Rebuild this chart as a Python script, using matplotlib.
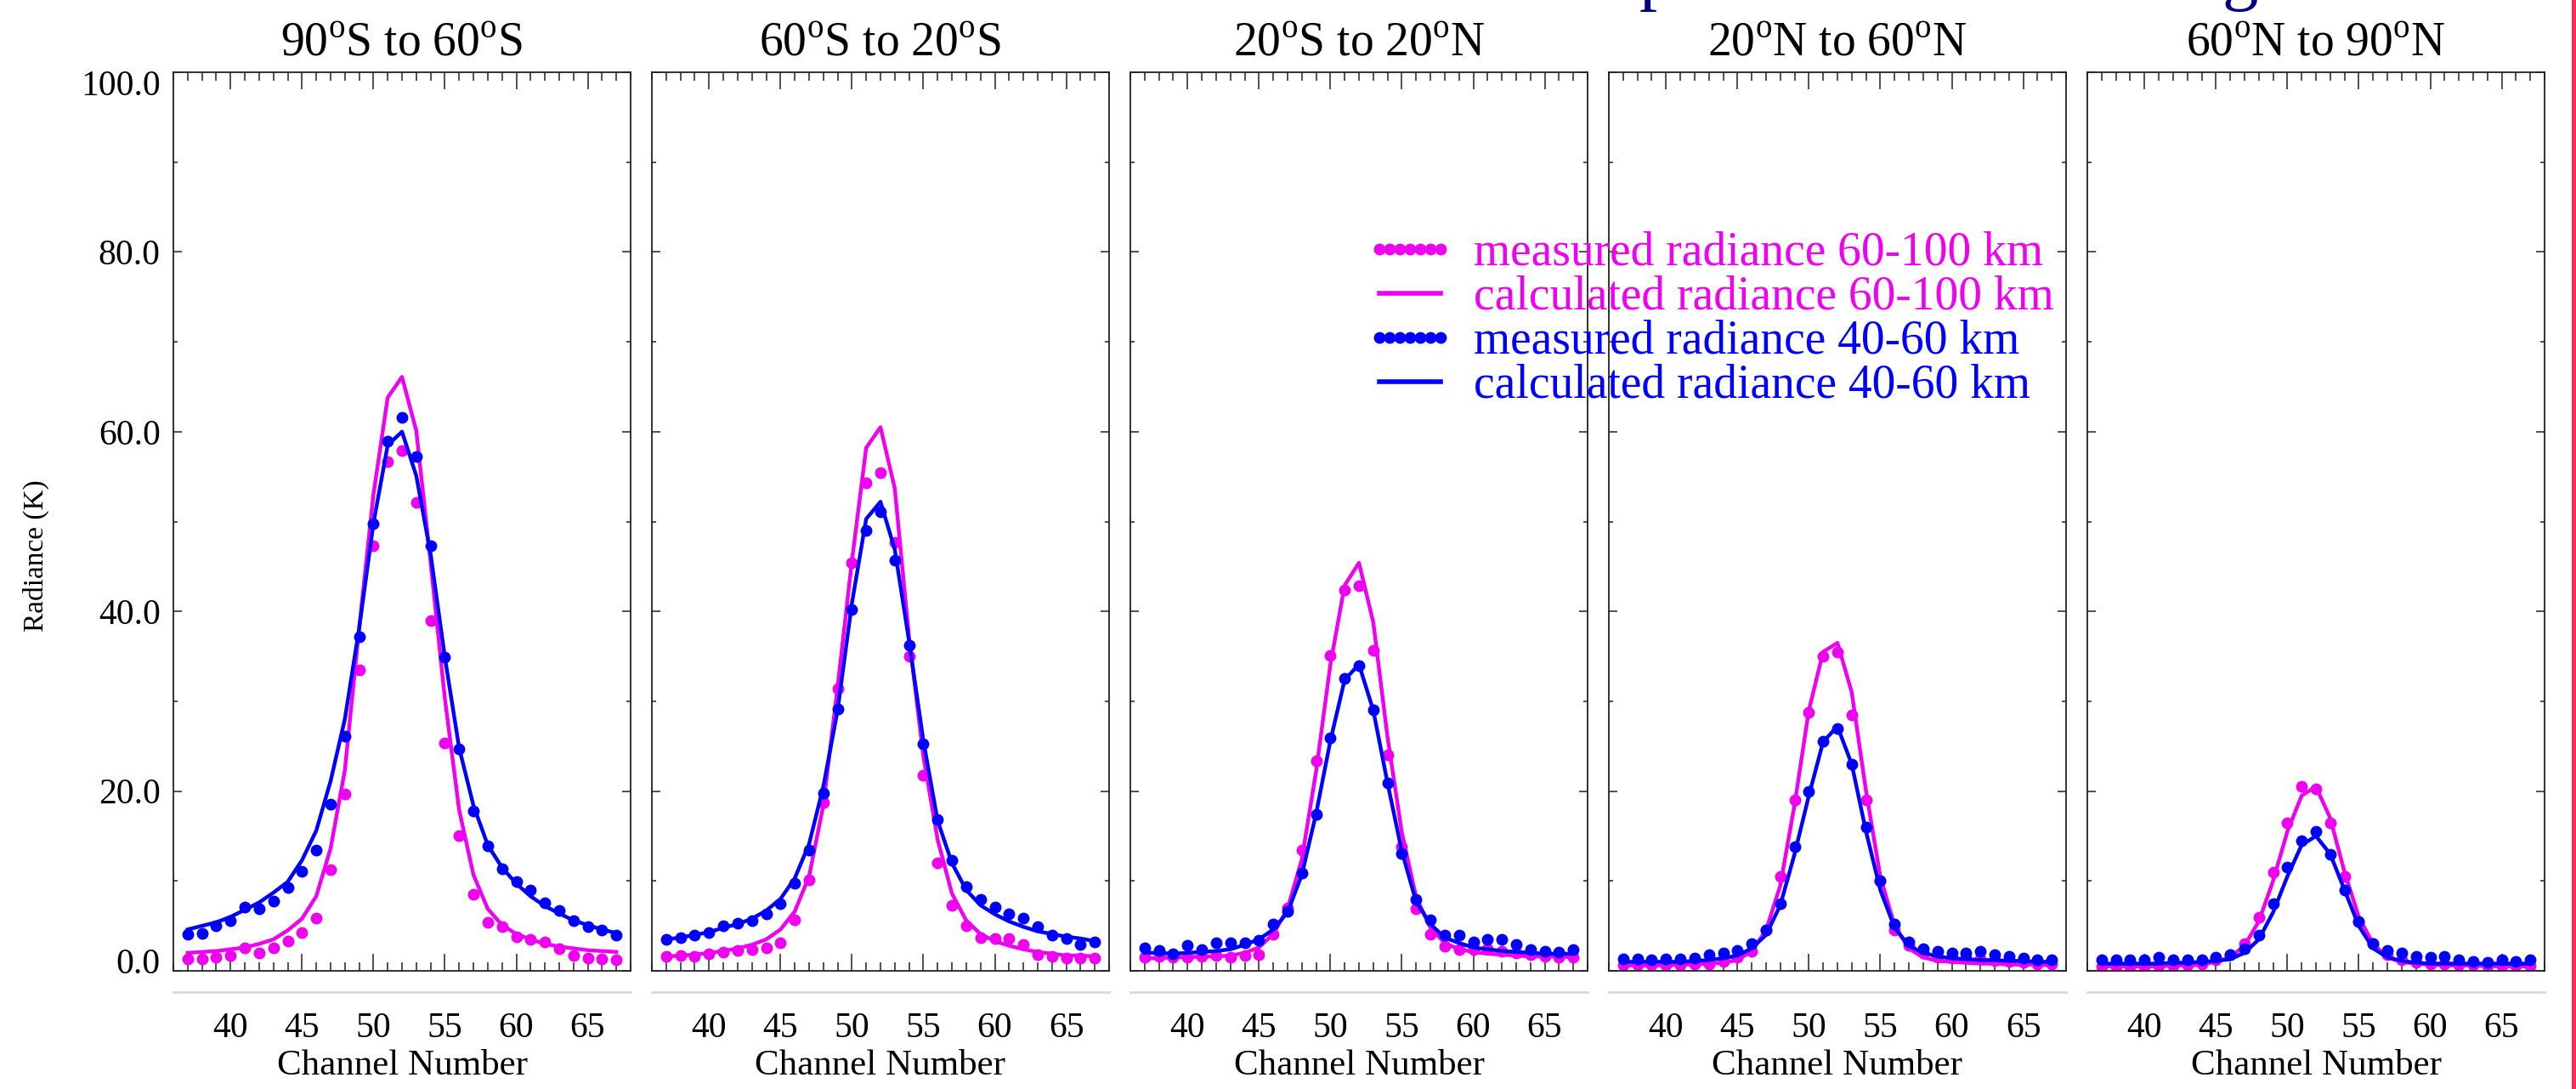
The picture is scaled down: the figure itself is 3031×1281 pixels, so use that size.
import numpy as np
import matplotlib
matplotlib.use('Agg')
import matplotlib.pyplot as plt
import matplotlib.transforms as mtransforms
from matplotlib.patches import Rectangle
from matplotlib.ticker import MultipleLocator, FormatStrFormatter

plt.rcParams["font.family"] = "Liberation Serif"
plt.rcParams["mathtext.fontset"] = "custom"
plt.rcParams["mathtext.rm"] = "Liberation Serif"

# channel numbers (x axis)
channels = np.arange(37, 68)

region_titles = [r'90$^{\rm o}$S to 60$^{\rm o}$S', r'60$^{\rm o}$S to 20$^{\rm o}$S',
                 r'20$^{\rm o}$S to 20$^{\rm o}$N', r'20$^{\rm o}$N to 60$^{\rm o}$N',
                 r'60$^{\rm o}$N to 90$^{\rm o}$N']

# measured / calculated radiance (K), 60-100 km
meas_hi = [
    [1.3, 1.3, 1.5, 1.7, 2.6, 2.0, 2.6, 3.3, 4.3, 5.9, 11.3, 19.7, 33.5, 47.3, 56.7, 57.9,
     52.1, 39.0, 25.4, 15.0, 8.5, 5.4, 4.9, 3.8, 3.5, 3.2, 2.5, 1.7, 1.4, 1.3, 1.2],
    [1.6, 1.7, 1.6, 1.9, 2.1, 2.3, 2.4, 2.6, 3.1, 5.7, 10.1, 18.7, 31.4, 45.4, 54.3, 55.4,
     47.7, 35.0, 21.8, 12.0, 7.3, 5.0, 3.7, 3.6, 3.6, 2.9, 1.8, 1.6, 1.4, 1.4, 1.4],
    [1.5, 1.6, 1.5, 1.5, 1.6, 1.7, 1.5, 1.7, 1.8, 4.1, 7.0, 13.4, 23.4, 35.1, 42.4, 42.9,
     35.7, 24.0, 13.8, 6.9, 4.1, 2.7, 2.4, 2.4, 2.5, 2.2, 2.0, 1.8, 1.6, 1.5, 1.5],
    [0.7, 0.7, 0.7, 0.7, 0.7, 0.8, 0.8, 1.0, 1.5, 2.2, 4.5, 10.5, 19.0, 28.8, 35.0, 35.5,
     28.5, 19.0, 10.0, 4.5, 2.8, 2.0, 1.5, 1.4, 1.5, 1.3, 1.1, 1.0, 0.9, 0.8, 0.8],
    [0.5, 0.5, 0.5, 0.5, 0.6, 0.6, 0.7, 0.8, 1.2, 1.8, 3.0, 6.0, 11.0, 16.5, 20.5, 20.2,
     16.5, 10.5, 5.5, 3.0, 1.8, 1.2, 0.9, 0.8, 0.8, 0.7, 0.7, 0.6, 0.6, 0.6, 0.6],
]
calc_hi = [
    [2.0, 2.1, 2.2, 2.4, 2.6, 3.0, 3.5, 4.5, 5.8, 8.3, 13.6, 22.3, 38.1, 53.0, 63.8, 66.1,
     60.1, 45.5, 30.3, 17.9, 10.7, 6.9, 5.1, 4.1, 3.5, 3.0, 2.7, 2.5, 2.3, 2.2, 2.1],
    [1.6, 1.7, 1.8, 2.0, 2.2, 2.5, 2.9, 3.5, 4.6, 6.6, 10.5, 18.4, 31.6, 45.6, 58.2, 60.5,
     53.7, 37.1, 23.9, 14.6, 8.6, 5.6, 4.1, 3.3, 2.8, 2.4, 2.1, 1.9, 1.7, 1.7, 1.6],
    [1.4, 1.4, 1.5, 1.5, 1.6, 1.6, 1.7, 2.0, 2.6, 4.1, 6.9, 12.4, 22.2, 34.1, 42.9, 45.4,
     38.8, 26.0, 15.4, 8.2, 4.8, 3.1, 2.4, 2.1, 1.9, 1.8, 1.7, 1.6, 1.6, 1.6, 1.5],
    [0.6, 0.6, 0.6, 0.6, 0.7, 0.7, 0.8, 0.9, 1.2, 2.2, 4.5, 9.5, 18.5, 29.0, 35.5, 36.5,
     31.0, 20.0, 10.5, 5.0, 2.5, 1.5, 1.1, 1.0, 0.9, 0.8, 0.8, 0.7, 0.7, 0.7, 0.6],
    [0.5, 0.5, 0.5, 0.5, 0.5, 0.6, 0.6, 0.7, 1.0, 1.5, 2.8, 5.5, 10.0, 15.5, 19.5, 20.5,
     17.0, 11.0, 6.0, 3.0, 1.5, 1.0, 0.8, 0.7, 0.6, 0.6, 0.6, 0.5, 0.5, 0.5, 0.5],
]

# measured / calculated radiance (K), 40-60 km
meas_lo = [
    [4.1, 4.2, 5.0, 5.6, 7.1, 6.9, 7.8, 9.3, 11.1, 13.4, 18.5, 26.1, 37.2, 49.8, 58.9, 61.6,
     57.2, 47.3, 34.9, 24.7, 17.8, 13.9, 11.4, 9.9, 9.0, 7.6, 6.7, 5.6, 4.9, 4.5, 4.0],
    [3.5, 3.7, 4.0, 4.3, 5.0, 5.3, 5.6, 6.3, 7.5, 9.7, 13.4, 19.8, 29.1, 40.2, 49.0, 51.1,
     45.7, 36.2, 25.3, 16.8, 12.3, 9.4, 7.9, 7.1, 6.3, 5.9, 4.9, 4.0, 3.6, 2.9, 3.2],
    [2.6, 2.3, 1.9, 2.8, 2.4, 3.1, 3.1, 3.1, 3.4, 5.2, 6.6, 10.9, 17.4, 25.9, 32.5, 34.0,
     29.0, 20.9, 13.1, 7.9, 5.7, 4.0, 4.0, 3.2, 3.5, 3.5, 2.9, 2.4, 2.2, 2.1, 2.4],
    [1.3, 1.3, 1.2, 1.3, 1.3, 1.4, 1.8, 2.0, 2.3, 3.0, 4.5, 7.5, 13.8, 20.0, 25.5, 27.0,
     23.0, 16.0, 10.0, 5.2, 3.2, 2.5, 2.2, 2.0, 2.0, 2.2, 1.8, 1.6, 1.4, 1.2, 1.2],
    [1.2, 1.2, 1.2, 1.2, 1.5, 1.2, 1.2, 1.2, 1.5, 1.8, 2.5, 4.0, 7.5, 11.5, 14.5, 15.5,
     13.0, 9.0, 5.5, 3.0, 2.3, 2.0, 1.6, 1.5, 1.6, 1.2, 1.0, 0.9, 1.2, 1.0, 1.2],
]
calc_lo = [
    [4.6, 5.0, 5.4, 6.0, 6.8, 7.6, 8.7, 9.9, 12.3, 15.6, 21.1, 28.0, 38.1, 49.8, 58.5, 60.0,
     55.1, 46.4, 34.9, 24.8, 18.4, 14.0, 11.5, 9.7, 8.3, 7.2, 6.4, 5.6, 5.1, 4.6, 4.2],
    [3.5, 3.7, 4.0, 4.3, 4.8, 5.2, 5.8, 6.7, 8.0, 10.3, 14.1, 20.5, 29.0, 40.9, 50.3, 52.2,
     46.9, 36.7, 25.6, 16.7, 12.0, 9.0, 7.3, 6.3, 5.5, 4.9, 4.4, 4.1, 3.8, 3.6, 3.3],
    [2.0, 2.0, 1.9, 2.0, 2.1, 2.2, 2.4, 2.9, 3.5, 4.6, 6.5, 10.7, 17.5, 25.6, 32.4, 34.1,
     29.0, 20.9, 13.3, 7.7, 5.2, 3.7, 3.1, 2.6, 2.4, 2.2, 2.1, 2.0, 1.9, 1.9, 1.9],
    [1.0, 1.0, 1.0, 1.0, 1.0, 1.1, 1.2, 1.4, 1.7, 2.5, 4.0, 7.3, 13.0, 19.5, 25.5, 27.2,
     23.0, 15.5, 9.0, 4.8, 2.8, 2.0, 1.6, 1.4, 1.3, 1.2, 1.2, 1.1, 1.1, 1.0, 1.0],
    [0.8, 0.8, 0.8, 0.8, 0.8, 0.9, 0.9, 1.0, 1.1, 1.3, 2.0, 3.5, 6.5, 10.5, 14.0, 15.0,
     13.0, 9.0, 5.0, 2.5, 1.5, 1.1, 0.9, 0.8, 0.8, 0.8, 0.8, 0.8, 0.8, 0.8, 0.8],
]

legend_labels = ['measured radiance 60-100 km', 'calculated radiance 60-100 km',
                 'measured radiance 40-60 km', 'calculated radiance 40-60 km']

MAG = '#F000F0'
BLU = '#0000FF'
W, H = 3031, 1281


def main():
    fig = plt.figure(figsize=(W / 100, H / 100), dpi=100)
    handles = None
    for i in range(5):
        left = 204 + i * 563
        ax = fig.add_axes([left / W, (H - 1142) / H, 538 / W, 1057 / H])
        h = draw_panel(ax, i)
        if i == 0:
            handles = h

    leg = fig.legend(handles, legend_labels, loc='upper left',
                     bbox_to_anchor=(1606 / W, 1 - 272 / H), frameon=False,
                     fontsize=40, numpoints=7, markerscale=1.0, handlelength=1.9,
                     handletextpad=0.4, labelspacing=0.0, borderpad=0, borderaxespad=0,
                     labelcolor=[MAG, MAG, BLU, BLU])
    for ln in leg.get_lines():
        if ln.get_linestyle() == '-':
            ln.set_linewidth(4)

    # pieces of the cut-off title at the top edge
    fig.text(1950 / W, 1 + 4 / H, 'p', color='#000080', fontsize=61, ha='center', va='baseline')
    fig.text(2636 / W, 1 + 4 / H, 'g', color='#000080', fontsize=61, ha='center', va='baseline')
    # red strip at the right border
    fig.add_artist(Rectangle((3026 / W, 0), 5 / W, 1, transform=fig.transFigure,
                             color='#FF2A5C', lw=0))

    fig.savefig('out.png', dpi=100)


def draw_panel(ax, i):
    l1, = ax.plot(channels, meas_hi[i], 'o', color=MAG, ms=10, mew=0)
    l2, = ax.plot(channels, calc_hi[i], '-', color=MAG, lw=3.2)
    l3, = ax.plot(channels, meas_lo[i], 'o', color=BLU, ms=10, mew=0)
    l4, = ax.plot(channels, calc_lo[i], '-', color=BLU, lw=3.2)

    ax.set_xlim(36, 68)
    ax.set_ylim(0, 100)
    ax.set_xticks([40, 45, 50, 55, 60, 65])
    ax.xaxis.set_minor_locator(MultipleLocator(1))
    ax.set_yticks([0, 20, 40, 60, 80, 100])
    ax.yaxis.set_minor_locator(MultipleLocator(10))
    ax.yaxis.set_major_formatter(FormatStrFormatter('%.1f'))

    ax.tick_params(axis='x', which='both', direction='in', top=True, bottom=True,
                   labelsize=30, pad=35, width=1.1, color='#222222')
    ax.tick_params(axis='x', which='major', length=14.4)
    ax.tick_params(axis='x', which='minor', length=7)
    ax.tick_params(axis='y', which='both', direction='in', left=True, right=True,
                   labelsize=30, pad=11, width=1.1, color='#222222')
    ax.tick_params(axis='y', which='major', length=7.2)
    ax.tick_params(axis='y', which='minor', length=3.6)
    for sp in ax.spines.values():
        sp.set_linewidth(1.3)
        sp.set_color('#222222')

    # detached grey axis line under the panel
    ax.plot([0, 1], [-0.0237, -0.0237], transform=ax.transAxes, clip_on=False,
            color='#d9d9d9', lw=2)

    ax.set_title(region_titles[i], fontsize=40, pad=14)
    ax.set_xlabel('Channel Number', fontsize=31, labelpad=4)

    if i == 0:
        ax.set_ylabel('Radiance (K)', fontsize=24)
        ax.yaxis.set_label_coords(-0.271, 0.462)
        labs = ax.get_yticklabels()
        fig = ax.figure
        labs[0].set_transform(labs[0].get_transform() +
                              mtransforms.ScaledTranslation(0, 0.12, fig.dpi_scale_trans))
        labs[-1].set_transform(labs[-1].get_transform() +
                               mtransforms.ScaledTranslation(0, -0.12, fig.dpi_scale_trans))
    else:
        ax.tick_params(axis='y', labelleft=False)

    return [l1, l2, l3, l4]


if __name__ == '__main__':
    main()
